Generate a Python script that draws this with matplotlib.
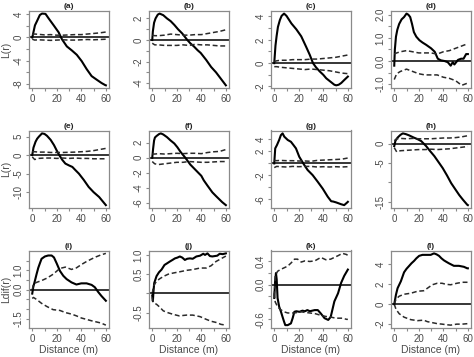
import matplotlib
matplotlib.use("Agg")
import matplotlib.pyplot as plt

plt.rcParams['font.family'] = ['Liberation Sans', 'DejaVu Sans']

# ---------------- data ----------------
env_x = [0, 2, 5, 10, 15, 20, 25, 30, 35, 40, 45, 50, 55, 60]
x_ticks = [0, 10, 20, 30, 40, 50, 60]
x_ticklabels = ['0', '', '20', '', '40', '', '60']

# (a)
a_x = [0, 0.5, 2.2, 4, 6.2, 8, 10.8, 13.4, 17.5, 21.5, 24.2, 28.2, 32.3, 36.3, 40.3, 44.4, 48.4, 52.4, 56.5, 59.4, 60]
a_L = [0, 0.45, 2.1, 2.9, 3.9, 4.15, 4.1, 3.3, 2.1, 0.9, -0.3, -1.55, -2.25, -3.0, -4.1, -5.5, -6.7, -7.3, -7.9, -8.25, -8.3]
a_hi = [0.55, 0.6, 0.55, 0.45, 0.5, 0.4, 0.4, 0.45, 0.5, 0.5, 0.6, 0.7, 0.8, 0.95]
a_lo = [-0.3, -0.45, -0.4, -0.45, -0.5, -0.45, -0.4, -0.45, -0.45, -0.4, -0.35, -0.4, -0.35, -0.3]
a_yt = [-8, -6, -4, -2, 0, 2, 4]
a_yl = ['-8', '', '-4', '', '0', '', '4']

# (b)
b_x = [0, 0.5, 1.5, 2.7, 4.5, 6, 9, 12, 15, 18, 21, 24.5, 28.6, 31, 34, 37, 39.5, 44, 48, 52, 56, 60]
b_L = [0, 0.8, 1.6, 2.0, 2.35, 2.45, 2.3, 2.0, 1.75, 1.4, 1.0, 0.6, 0, -0.3, -0.6, -0.95, -1.2, -1.85, -2.5, -3.0, -3.6, -4.2]
b_hi = [0.45, 0.4, 0.4, 0.45, 0.55, 0.5, 0.45, 0.45, 0.5, 0.5, 0.6, 0.7, 0.8, 0.95]
b_lo = [-0.3, -0.45, -0.45, -0.5, -0.5, -0.5, -0.45, -0.5, -0.4, -0.45, -0.45, -0.5, -0.55, -0.55]
b_yt = [-4, -3, -2, -1, 0, 1, 2]
b_yl = ['-4', '', '-2', '', '0', '', '2']

# (c)
c_x = [0, 1, 1.9, 3, 4.6, 6, 8, 10, 14, 18, 22, 26, 29, 31.6, 34, 37, 40, 42.4, 46, 49, 50.5, 52.5, 54.6, 57, 59.5, 60]
c_L = [0, 1.5, 2.3, 3.1, 3.7, 4.05, 4.25, 4.05, 3.4, 2.9, 2.3, 1.4, 0.7, 0, -0.35, -0.7, -1.0, -1.3, -1.6, -1.85, -1.9, -1.85, -1.7, -1.45, -1.2, -1.15]
c_hi = [0.15, 0.2, 0.25, 0.25, 0.3, 0.3, 0.3, 0.35, 0.35, 0.4, 0.45, 0.5, 0.6, 0.7]
c_lo = [-0.3, -0.3, -0.35, -0.4, -0.45, -0.5, -0.55, -0.5, -0.55, -0.6, -0.65, -0.75, -0.85, -0.9]
c_yt = [-2, -1, 0, 1, 2, 3, 4]
c_yl = ['-2', '', '0', '', '2', '', '4']

# (d)
d_x = [0, 0.5, 1.4, 2.5, 4, 6, 8, 10, 11.5, 13, 14.5, 16, 18, 20.5, 23, 26, 30, 33, 35.5, 38, 41, 43.6, 46, 47.7, 49, 50.5, 52, 54.5, 56.5, 58.6, 60]
d_L = [-0.2, 0.5, 1.05, 1.35, 1.6, 1.8, 1.9, 2.05, 2.0, 1.9, 1.6, 1.25, 1.05, 0.9, 0.8, 0.7, 0.55, 0.4, 0.1, 0.03, 0.0, -0.05, -0.2, -0.05, -0.15, -0.05, 0.05, 0.1, 0.1, 0.3, 0.3]
d_hi = [0.3, 0.35, 0.4, 0.45, 0.4, 0.35, 0.35, 0.35, 0.3, 0.4, 0.45, 0.55, 0.65, 0.75]
d_lo = [-0.8, -0.55, -0.45, -0.35, -0.45, -0.55, -0.6, -0.6, -0.6, -0.7, -0.75, -0.85, -1.05, -0.95]
d_yt = [-1, -0.5, 0, 0.5, 1, 1.5, 2]
d_yl = ['-1.0', '', '0.0', '', '1.0', '', '2.0']

# (e)
e_x = [0, 1, 2.7, 4, 5.5, 8, 10, 12, 15, 17.7, 20, 22, 24.5, 27, 30, 32.7, 35, 38, 42, 46, 50, 54.5, 57, 60]
e_L = [0, 2.0, 3.6, 4.4, 5.0, 5.85, 5.7, 5.2, 4.1, 2.7, 1.2, 0, -1.3, -2.3, -2.8, -3.2, -4.0, -5.0, -6.7, -8.6, -10.0, -11.3, -12.3, -13.5]
e_hi = [0.9, 0.9, 0.8, 0.8, 0.7, 0.7, 0.7, 0.75, 0.8, 0.9, 1.0, 1.2, 1.5, 1.8]
e_lo = [-0.5, -1.2, -0.9, -0.8, -0.8, -0.9, -0.8, -0.9, -0.8, -0.9, -0.9, -1.0, -1.0, -1.0]
e_yt = [-10, -5, 0, 5]
e_yl = ['-10', '-5', '0', '5']

# (f)
f_x = [0, 0.7, 1.5, 2.2, 3.5, 5.5, 7, 9, 12, 15, 18, 20.5, 23, 27, 31, 34, 37, 40, 42, 45, 49, 52, 54.5, 57, 60]
f_L = [0, 1.2, 2.3, 2.7, 2.9, 3.15, 3.25, 3.1, 2.75, 2.3, 1.9, 1.4, 0.8, 0, -0.9, -1.4, -1.9, -2.4, -3.0, -3.7, -4.6, -5.1, -5.5, -5.9, -6.3]
f_hi = [0.5, 0.5, 0.55, 0.5, 0.55, 0.6, 0.55, 0.6, 0.6, 0.55, 0.7, 0.8, 0.85, 1.1]
f_lo = [-0.5, -0.8, -0.9, -0.8, -0.7, -0.6, -0.6, -0.5, -0.55, -0.6, -0.6, -0.55, -0.5, -0.5]
f_yt = [-6, -4, -2, 0, 2]
f_yl = ['-6', '-4', '-2', '0', '2']

# (g)
g_x = [0, 0.8, 2.2, 4, 5.4, 6.8, 8.2, 11, 13.6, 15.5, 17.7, 20.4, 24.5, 27.2, 31.3, 35.4, 39.5, 43.6, 46.4, 48, 50.5, 54.5, 57, 59.5, 60]
g_L = [0, 2.5, 3.05, 3.9, 4.7, 5.0, 4.45, 3.9, 3.6, 3.1, 2.5, 1.1, -0.28, -1.1, -1.95, -3.05, -4.2, -5.55, -6.3, -6.35, -6.5, -6.8, -6.95, -6.5, -6.4]
g_hi = [0.5, 0.45, 0.5, 0.45, 0.45, 0.4, 0.4, 0.35, 0.5, 0.55, 0.6, 0.65, 0.7, 0.9]
g_lo = [-0.7, -0.5, -0.55, -0.6, -0.5, -0.55, -0.5, -0.5, -0.6, -0.55, -0.6, -0.55, -0.6, -0.55]
g_yt = [-6, -4, -2, 0, 2, 4]
g_yl = ['-6', '', '-2', '', '2', '4']

# (h)
h_x = [0, 1, 2.7, 5, 7, 9.5, 12, 16, 19, 22, 26, 29, 32.7, 36, 39.5, 43, 46.4, 50, 53, 56, 59.5, 60]
h_L = [-0.6, 0.8, 1.6, 2.3, 2.7, 2.5, 2.2, 1.6, 1.2, 0.7, -0.6, -1.8, -3.2, -4.7, -6.3, -8.2, -10.2, -11.9, -13.3, -14.5, -15.8, -15.9]
h_hi = [0.8, 1.3, 1.4, 1.3, 1.4, 1.3, 1.3, 1.3, 1.4, 1.5, 1.5, 1.6, 1.8, 2.1]
h_lo = [-1.0, -2.1, -1.8, -1.7, -1.6, -1.5, -1.5, -1.4, -1.5, -1.4, -1.3, -1.1, -0.9, -0.7]
h_yt = [-15, -10, -5, 0]
h_yl = ['-15', '', '-5', '0']

# (i)
i_x = [0, 0.8, 2.2, 3.5, 4.9, 6.3, 7.6, 10.3, 13, 15.8, 17.7, 19.8, 22.6, 25.3, 28, 32, 36, 40, 44.3, 48.4, 51, 53.8, 56.5, 60]
i_L = [-0.2, 0.13, 0.47, 0.8, 1.13, 1.38, 1.6, 1.72, 1.77, 1.77, 1.67, 1.38, 0.97, 0.72, 0.55, 0.38, 0.27, 0.33, 0.33, 0.25, 0.13, -0.12, -0.33, -0.57]
i_ex = [0, 1, 3.5, 7.5, 12, 17, 22.5, 27, 32, 36, 40, 44, 48, 52, 56, 60]
i_hi = [0.0, 0.3, 0.38, 0.47, 0.6, 0.8, 1.1, 1.17, 1.05, 1.13, 1.3, 1.45, 1.58, 1.7, 1.8, 1.88]
i_lo = [-0.45, -0.4, -0.5, -0.7, -0.87, -1.03, -1.07, -1.18, -1.26, -1.35, -1.46, -1.53, -1.6, -1.66, -1.72, -1.83]
i_yt = [-1.5, -1, -0.5, 0, 0.5, 1, 1.5]
i_yl = ['-1.5', '', '', '0.0', '', '1.0', '']

# (j)
j_x = [0, 0.5, 1, 1.6, 3.5, 5.5, 7.6, 10, 12, 14.4, 16.5, 18.5, 20.5, 22.5, 24.5, 26.6, 28.5, 30.7, 33, 36, 39, 41.6, 43, 45, 47, 49, 51, 53, 55, 57.5, 60]
j_L = [-0.05, -0.2, 0.05, 0.27, 0.45, 0.55, 0.62, 0.74, 0.78, 0.83, 0.87, 0.91, 0.93, 0.96, 0.93, 0.87, 0.9, 0.91, 0.9, 0.96, 0.98, 1.03, 1.0, 1.04, 0.97, 0.96, 0.97, 0.98, 1.03, 1.02, 1.04]
j_ex = [0, 1, 3.5, 6, 9, 13, 17, 22, 28, 33, 39, 44, 48, 52, 56, 60]
j_hi = [0.0, 0.19, 0.32, 0.38, 0.44, 0.5, 0.53, 0.56, 0.6, 0.62, 0.66, 0.66, 0.72, 0.83, 0.9, 0.97]
j_lo = [-0.1, -0.24, -0.28, -0.35, -0.45, -0.5, -0.54, -0.58, -0.56, -0.56, -0.6, -0.67, -0.72, -0.75, -0.8, -0.82]
j_yt = [-0.5, 0, 0.5, 1]
j_yl = ['-0.5', '', '0.5', '1.0']

# (k)
k_x = [0, 0.7, 1.4, 2, 2.7, 4, 5.5, 6.8, 8, 9, 11, 13.6, 15, 16.4, 18, 20.5, 23, 25, 27, 29, 31, 33, 35.5, 38, 41, 44, 46, 49, 52, 54.5, 57, 60]
k_L = [-0.23, 0.05, 0.2, 0.09, -0.23, -0.38, -0.47, -0.56, -0.64, -0.7, -0.7, -0.67, -0.58, -0.47, -0.46, -0.47, -0.45, -0.46, -0.44, -0.46, -0.45, -0.44, -0.44, -0.5, -0.58, -0.61, -0.56, -0.29, -0.15, 0.03, 0.15, 0.26]
k_ex = [0, 0.8, 2.7, 5, 8, 11, 14, 16.5, 19, 22, 25, 29, 33, 38, 42, 46, 50, 52, 55.5, 59, 60]
k_hi = [-0.2, 0.15, 0.23, 0.26, 0.29, 0.32, 0.38, 0.44, 0.44, 0.39, 0.41, 0.4, 0.41, 0.47, 0.43, 0.44, 0.48, 0.5, 0.54, 0.52, 0.5]
k_lo = [-0.15, -0.3, -0.38, -0.43, -0.47, -0.49, -0.49, -0.49, -0.48, -0.47, -0.48, -0.49, -0.5, -0.53, -0.55, -0.56, -0.58, -0.58, -0.58, -0.6, -0.6]
k_yt = [-0.6, -0.4, -0.2, 0, 0.2, 0.4]
k_yl = ['-0.6', '', '', '0.0', '', '0.4']

# (l)
l_x = [0, 1.4, 2.7, 5.4, 8, 10, 12.2, 14, 16.2, 18, 20.3, 23, 27, 29.7, 32.4, 34.5, 36.5, 38.5, 40.5, 42.5, 44.6, 48.6, 52.7, 56.8, 59.5, 60]
l_L = [0, 0.95, 1.6, 2.3, 3.2, 3.55, 3.85, 4.1, 4.35, 4.6, 4.85, 4.95, 4.95, 4.95, 5.1, 5.0, 4.85, 4.6, 4.4, 4.25, 4.1, 3.85, 3.85, 3.75, 3.6, 3.6]
l_ex = [0, 1.4, 4, 8, 13.5, 19, 24, 27, 31, 35, 39, 42, 46, 51, 55.5, 60]
l_hi = [0, 0.5, 0.8, 1.0, 1.1, 1.3, 1.35, 1.6, 1.95, 2.1, 2.1, 2.0, 1.95, 2.1, 2.2, 2.2]
l_lo = [0, -0.5, -0.95, -1.3, -1.55, -1.65, -1.6, -1.75, -1.85, -1.95, -2.0, -2.05, -2.1, -2.0, -2.0, -1.95]
l_yt = [-2, 0, 2, 4]
l_yl = ['-2', '0', '2', '4']

panel_titles = ['(a)', '(b)', '(c)', '(d)', '(e)', '(f)', '(g)', '(h)', '(i)', '(j)', '(k)', '(l)']
row_ylabels = ['L(r)', 'L(r)', 'Ldif(r)']
x_label = 'Distance (m)'

panels = [
    (a_x, a_L, env_x, a_hi, a_lo, a_yt, a_yl),
    (b_x, b_L, env_x, b_hi, b_lo, b_yt, b_yl),
    (c_x, c_L, env_x, c_hi, c_lo, c_yt, c_yl),
    (d_x, d_L, env_x, d_hi, d_lo, d_yt, d_yl),
    (e_x, e_L, env_x, e_hi, e_lo, e_yt, e_yl),
    (f_x, f_L, env_x, f_hi, f_lo, f_yt, f_yl),
    (g_x, g_L, env_x, g_hi, g_lo, g_yt, g_yl),
    (h_x, h_L, env_x, h_hi, h_lo, h_yt, h_yl),
    (i_x, i_L, i_ex, i_hi, i_lo, i_yt, i_yl),
    (j_x, j_L, j_ex, j_hi, j_lo, j_yt, j_yl),
    (k_x, k_L, k_ex, k_hi, k_lo, k_yt, k_yl),
    (l_x, l_L, l_ex, l_hi, l_lo, l_yt, l_yl),
]

# ---------------- layout ----------------
W, H = 474, 357
fig = plt.figure(figsize=(W / 100, H / 100), dpi=100)
col_left = [29.3, 149.3, 271.3, 391.3]
row_top = [10.7, 130.5, 250.5]
aw, ah = 79.5, 77.5

frame_col = '#8a8a8a'
text_col = '#4a4a4a'

for idx, (xs, ys, ex, hi, lo, yt, yl) in enumerate(panels):
    r, c = divmod(idx, 4)
    ax = fig.add_axes([col_left[c] / W, 1 - (row_top[r] + ah) / H, aw / W, ah / H])
    ax.plot(xs, ys, color='black', lw=1.5, solid_joinstyle='round')
    ax.plot(ex, hi, color='#2a2a2a', lw=1.1, dashes=(3.2, 1.8))
    ax.plot(ex, lo, color='#2a2a2a', lw=1.1, dashes=(3.2, 1.8))
    ax.margins(x=0.04, y=0.04)
    ax.axhline(0, color='black', lw=1.1)
    ax.set_xticks(x_ticks)
    ax.set_xticklabels(x_ticklabels)
    ax.set_yticks(yt)
    ax.set_yticklabels(yl)
    for sp in ax.spines.values():
        sp.set_color(frame_col)
        sp.set_linewidth(0.9)
    ax.tick_params(axis='both', direction='out', length=2.3, width=0.8,
                   color=frame_col, labelcolor=text_col, labelsize=7, pad=1.8)
    for t in ax.get_yticklabels():
        t.set_rotation(90)
        t.set_va('center')
    ax.set_title(panel_titles[idx], fontsize=6, fontweight='bold', pad=1.6, color='#222222')
    if c == 0:
        ax.set_ylabel(row_ylabels[r], fontsize=7.5, color=text_col, labelpad=1.5)
    if r == 2:
        ax.set_xlabel(x_label, fontsize=7.5, color=text_col, labelpad=1)

fig.savefig('out.png', dpi=100)
